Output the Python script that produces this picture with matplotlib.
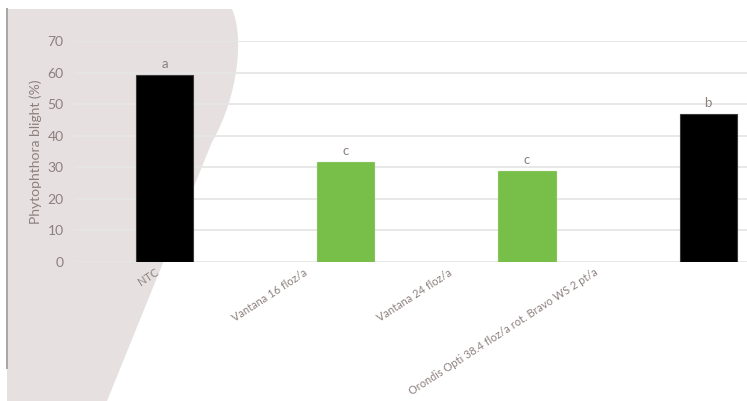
import matplotlib.pyplot as plt
import numpy as np
from matplotlib.path import Path
from matplotlib.patches import PathPatch

plt.rcParams['font.family'] = ['Lato', 'DejaVu Sans']

treatments = ['NTC', 'Vantana 16 floz/a', 'Vantana 24 floz/a',
              'Orondis Opti 38.4 floz/a rot. Bravo WS 2 pt/a']
blight = [59.4, 31.6, 28.7, 47.0]
letters = ['a', 'c', 'c', 'b']
bar_colors = ['#000000', '#78bf4a', '#78bf4a', '#000000']
edge_colors = ['#3a3a3a', '#84c45a', '#84c45a', '#3a3a3a']
yticks = [0, 10, 20, 30, 40, 50, 60, 70]

txt = '#8c807e'
W, H = 747, 401

fig = plt.figure(figsize=(W/100, H/100), dpi=100)

# grey decorative shape behind the chart (pixel coords, y from top)
def px(x, y):
    return (x/W, 1-y/H)

verts = [px(7, 9), px(232, 9), px(244, 35), px(239, 95), px(212, 142),
         px(107, 401), px(7, 401), px(7, 9)]
codes = [Path.MOVETO, Path.LINETO, Path.CURVE4, Path.CURVE4, Path.CURVE4,
         Path.LINETO, Path.LINETO, Path.CLOSEPOLY]
fig.add_artist(PathPatch(Path(verts, codes), facecolor='#e6e1e0', edgecolor='none',
                         transform=fig.transFigure, zorder=0))
fig.add_artist(plt.Line2D([7/W, 7/W], [1-9/H, 1-368/H], color='#aaa4a2', lw=1.4,
                          transform=fig.transFigure, zorder=1))

ax = fig.add_axes([74/W, 1-261.7/H, (W-74)/W, (261.7-41.3)/H])
ax.set_facecolor('none')
x = np.arange(len(treatments))
ax.bar(x, blight, width=0.315, color=bar_colors, edgecolor=edge_colors, linewidth=0.8, zorder=3)
ax.set_xlim(-0.5, -0.5 + (W-74)/181.2)
ax.set_ylim(0, 70)
ax.set_yticks(yticks)
ax.yaxis.grid(True, color='#e6e6e6', lw=1.3, zorder=0)
ax.set_axisbelow(True)
for s in ax.spines.values():
    s.set_visible(False)
ax.tick_params(axis='y', length=0, pad=7.5, labelsize=10, labelcolor=txt)
ax.set_xticks(x)
ax.set_xticklabels([])
ax.tick_params(axis='x', length=0)
ax.set_ylabel('Phytophthora blight (%)', color=txt, fontsize=10, labelpad=4)

# letters above bars
for i, (v, l) in enumerate(zip(blight, letters)):
    ax.annotate(l, xy=(i, v), xytext=(0, 5), textcoords='offset pixels',
                ha='center', va='bottom', color=txt, fontsize=9.5)

# category labels, shifted as in the original
label_dx = [-10, -43, -79, -114]
for i, (lab, dx) in enumerate(zip(treatments, label_dx)):
    ax.annotate(lab, xy=(i, 0), xytext=(dx, -5), textcoords='offset pixels',
                ha='right', va='top', rotation=33, rotation_mode='anchor',
                color=txt, fontsize=7.9)

fig.savefig('out.png', dpi=100)
